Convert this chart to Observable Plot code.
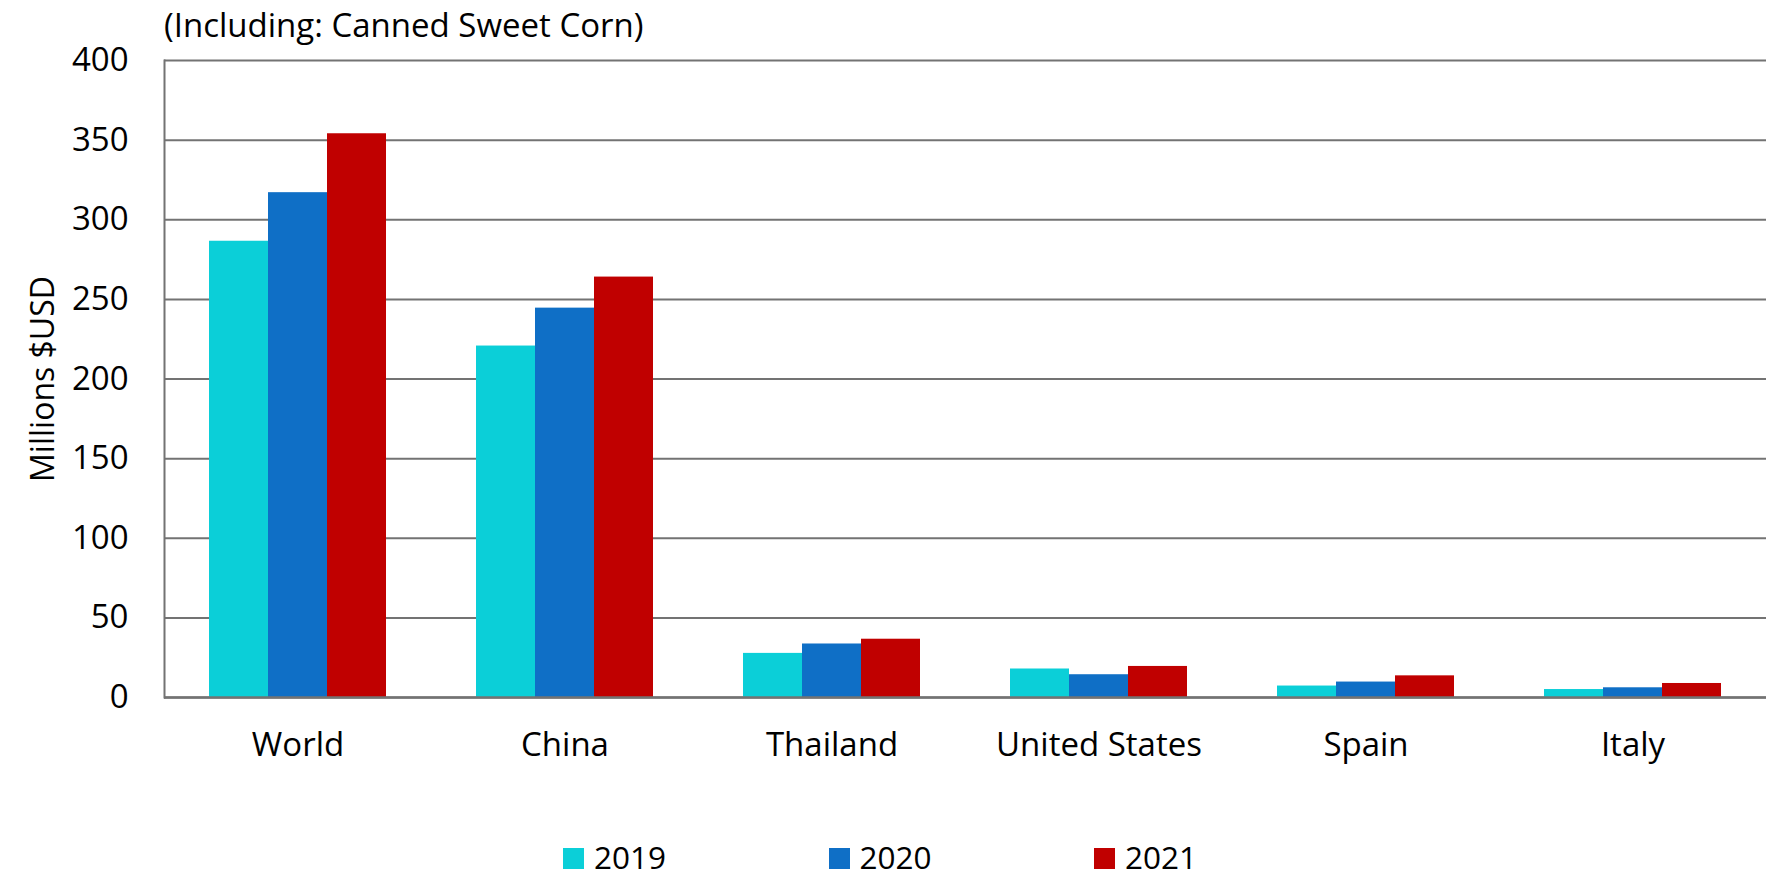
<!DOCTYPE html>
<html>
<head>
<meta charset="utf-8">
<script src="https://cdn.jsdelivr.net/npm/d3@7"></script>
<script src="https://cdn.jsdelivr.net/npm/@observablehq/plot@0.6"></script>
<style>
  html, body { margin: 0; padding: 0; background: #fff; overflow: hidden; }
  #wrap { position: relative; width: 1776px; height: 878px; font-family: "Open Sans", sans-serif; color: #000; }
  #title { position: absolute; left: 164px; top: 5px; font-size: 33px; line-height: 40px; white-space: nowrap; }
  #chart { position: absolute; left: 0; top: 0; }
  #legend { position: absolute; left: 563px; top: 835px; display: flex; }
  .item { width: 265.5px; display: flex; align-items: center; font-size: 31.5px; line-height: normal; }
  .swatch { width: 21px; height: 21px; margin-right: 10px; flex: none; position: relative; top: 2px; }
</style>
</head>
<body>
<div id="wrap">
  <div id="chart"></div>
  <div id="title">(Including: Canned Sweet Corn)</div>
  <div id="legend"></div>
</div>
<script>
const countries = ["World", "China", "Thailand", "United States", "Spain", "Italy"];
const years = ["2019", "2020", "2021"];
const v2019 = [286.5, 220.7, 27.7, 17.9, 7.2, 5.0];
const v2020 = [317, 244.5, 33.6, 14.3, 9.7, 6.1];
const v2021 = [354, 264, 36.6, 19.5, 13.6, 8.8];
const yTicks = [0, 50, 100, 150, 200, 250, 300, 350, 400];
const colors = ["#0bcfd8", "#0f6fc6", "#c00000"];

const series = [v2019, v2020, v2021];
const data = [];
countries.forEach((c, i) => years.forEach((y, j) => data.push({country: c, year: y, value: series[j][i]})));

const gridColor = "#737373";

const chart = Plot.plot({
  width: 1776,
  height: 800,
  marginLeft: 163,
  marginRight: 9,
  marginTop: 60,
  marginBottom: 103,
  style: {fontFamily: "Open Sans, sans-serif", fontSize: "33px", color: "#000", background: "#fff"},
  fx: {domain: countries, padding: 0},
  x: {domain: years, paddingInner: 0, paddingOuter: 0.75, axis: null},
  y: {domain: [0, 400]},
  color: {domain: years, range: colors},
  marks: [
    Plot.gridY(yTicks, {stroke: gridColor, strokeOpacity: 1, strokeWidth: 2}),
    Plot.barY(data, {fx: "country", x: "year", y: "value", fill: "year", inset: 0}),
    Plot.ruleY([0], {stroke: gridColor, strokeWidth: 2.5}),
    Plot.frame({anchor: "left", facetAnchor: "left", stroke: gridColor, strokeWidth: 2}),
    Plot.axisY(yTicks, {tickSize: 0, tickPadding: 36, fontSize: 33, label: "Millions $USD", labelAnchor: "center", labelOffset: 133, labelArrow: "none"}),
    Plot.axisFx({anchor: "bottom", tickSize: 0, tickPadding: 35, fontSize: 33, label: null})
  ]
});
chart.querySelectorAll("text").forEach(t => {
  if (t.textContent === "Millions $USD") t.setAttribute("font-size", "32");
});
document.getElementById("chart").appendChild(chart);

const legend = document.getElementById("legend");
years.forEach((y, i) => {
  const item = document.createElement("div");
  item.className = "item";
  const sw = document.createElement("span");
  sw.className = "swatch";
  sw.style.background = colors[i];
  const t = document.createElement("span");
  t.textContent = y;
  item.appendChild(sw);
  item.appendChild(t);
  legend.appendChild(item);
});
</script>
</body>
</html>
